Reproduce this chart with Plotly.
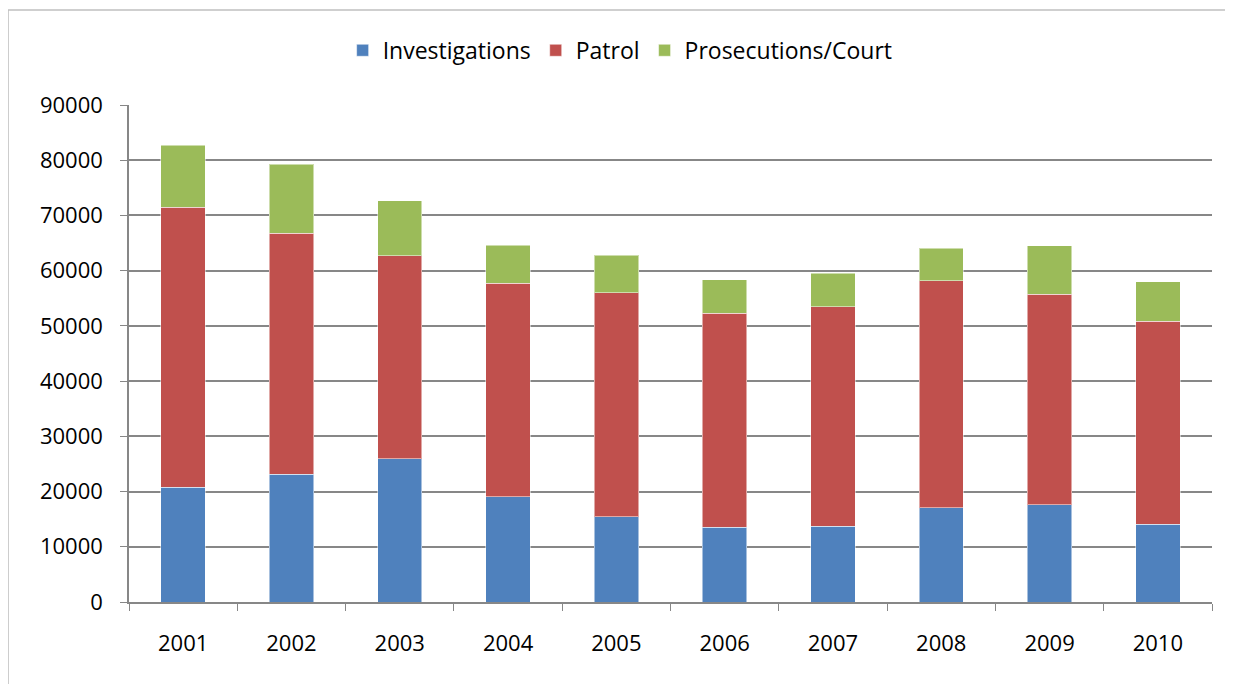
import plotly.graph_objects as go

years = ["2001", "2002", "2003", "2004", "2005", "2006", "2007", "2008", "2009", "2010"]
investigations = [20800, 23100, 25900, 19100, 15400, 13500, 13700, 17100, 17600, 14100]
patrol = [50700, 43700, 36800, 38600, 40600, 38800, 39800, 41100, 38100, 36700]
prosecutions = [11200, 12500, 10000, 6900, 6800, 6100, 6000, 5900, 8800, 7200]

series = [
    ("Investigations", investigations, "#4F81BD"),
    ("Patrol", patrol, "#C0504D"),
    ("Prosecutions/Court", prosecutions, "#9BBB59"),
]

fig = go.Figure()
for name, vals, color in series:
    fig.add_trace(go.Bar(x=years, y=vals, name=name, marker_color=color,
                         marker_line=dict(color="rgba(255,255,255,0.5)", width=1)))

grid = "#878787"
# page body has an 8px margin, so the figure is shrunk and shifted to fit the window
fig.update_layout(
    barmode="stack",
    bargap=0.59,
    width=1225, height=676,
    margin=dict(l=121, r=21, t=97, b=82),
    paper_bgcolor="white", plot_bgcolor="white",
    font=dict(family="Open Sans, Noto Sans, sans-serif", size=22, color="black"),
    legend=dict(orientation="h", x=0.4535, xanchor="center", y=1.11, yanchor="middle",
                font=dict(size=23), itemwidth=30, traceorder="normal"),
    showlegend=True,
)
fig.update_yaxes(range=[0, 90000], dtick=10000, showgrid=True, gridcolor=grid, gridwidth=1.5,
                 showline=True, linecolor=grid, linewidth=1.5, ticks="outside", ticklen=7,
                 tickcolor=grid, tickformat="d", zeroline=False, ticklabelstandoff=13)
fig.update_xaxes(showline=True, linecolor=grid, linewidth=1.5, ticks="outside", ticklen=7,
                 tickcolor=grid, tickson="boundaries", ticklabelstandoff=21)

# chart-area border: only the left and top edges are in view
border = dict(color="#BFBFBF", width=1.5)
fig.add_shape(type="line", xref="paper", yref="paper", x0=-0.1117, x1=-0.1117, y0=-0.2, y1=1.191,
              line=border, layer="below")
fig.add_shape(type="line", xref="paper", yref="paper", x0=-0.1117, x1=1.1, y0=1.191, y1=1.191,
              line=border, layer="below")

fig.write_html("out.html")
